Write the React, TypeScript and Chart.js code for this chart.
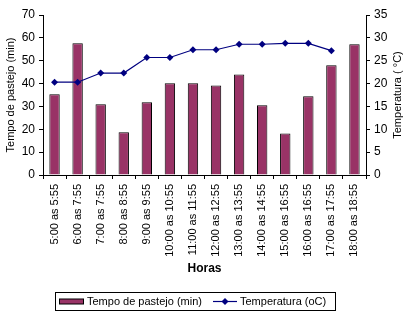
import { useEffect, useRef } from "react";
import { Chart, registerables } from "chart.js";

Chart.register(...registerables);

const categories = [
  "5:00 as 5:55",
  "6:00 as 7:55",
  "7:00 as 7:55",
  "8:00 as 8:55",
  "9:00 as 9:55",
  "10:00 as 10:55",
  "11:00 as 11:55",
  "12:00 as 12:55",
  "13:00 as 13:55",
  "14:00 as 14:55",
  "15:00 as 16:55",
  "16:00 as 16:55",
  "17:00 as 17:55",
  "18:00 as 18:55",
];
const grazingMinutes = [35.3, 57.6, 30.9, 18.7, 31.8, 40.1, 40.1, 39.2, 44.0, 30.5, 18.2, 34.4, 48.0, 57.2];
const temperatureC: (number | null)[] = [20.3, 20.3, 22.3, 22.3, 25.7, 25.7, 27.4, 27.4, 28.6, 28.6, 28.8, 28.8, 27.2, null];

const barLabel = "Tempo de pastejo (min)";
const lineLabel = "Temperatura (oC)";
const leftTitle = "Tempo de pastejo (min)";
const rightTitle = "Temperatura ( °C)";
const xTitle = "Horas";

const BAR_COLOR = "#993366";
const LINE_COLOR = "#000080";
const FONT = "'Liberation Sans', Arial, sans-serif";

const extrasPlugin = {
  id: "extras",
  afterDraw(chart: any) {
    const ctx = chart.ctx as CanvasRenderingContext2D;
    const area = chart.chartArea;
    ctx.save();
    // right axis title (reads bottom to top)
    ctx.fillStyle = "#000";
    ctx.font = `11px ${FONT}`;
    ctx.textAlign = "center";
    ctx.textBaseline = "middle";
    ctx.translate(398, (area.top + area.bottom) / 2);
    ctx.rotate(-Math.PI / 2);
    ctx.fillText(rightTitle, 0, 0);
    ctx.restore();

    // legend
    ctx.save();
    ctx.strokeStyle = "#000";
    ctx.lineWidth = 1;
    ctx.strokeRect(55.5, 292.5, 280, 18);
    const cy = 301.5;
    ctx.fillStyle = BAR_COLOR;
    ctx.fillRect(59.5, cy - 2.5, 24, 5);
    ctx.strokeRect(59.5, cy - 2.5, 24, 5);
    ctx.fillStyle = "#000";
    ctx.font = `11px ${FONT}`;
    ctx.textAlign = "left";
    ctx.textBaseline = "middle";
    ctx.fillText(barLabel, 87, cy);
    ctx.strokeStyle = LINE_COLOR;
    ctx.lineWidth = 1.2;
    ctx.beginPath();
    ctx.moveTo(213, cy);
    ctx.lineTo(237, cy);
    ctx.stroke();
    ctx.fillStyle = LINE_COLOR;
    ctx.beginPath();
    ctx.moveTo(225, cy - 3.5);
    ctx.lineTo(228.5, cy);
    ctx.lineTo(225, cy + 3.5);
    ctx.lineTo(221.5, cy);
    ctx.closePath();
    ctx.fill();
    ctx.fillStyle = "#000";
    ctx.fillText(lineLabel, 240, cy);
    ctx.restore();
  },
};

export default function App() {
  const ref = useRef<HTMLCanvasElement>(null);
  useEffect(() => {
    if (!ref.current) return;
    const chart = new Chart(ref.current, {
      type: "bar",
      data: {
        labels: categories,
        datasets: [
          {
            type: "bar",
            label: barLabel,
            data: grazingMinutes,
            backgroundColor: BAR_COLOR,
            borderColor: "#000",
            borderWidth: 1,
            barPercentage: 0.45,
            categoryPercentage: 1,
            yAxisID: "y",
            order: 1,
          },
          {
            type: "line",
            label: lineLabel,
            data: temperatureC,
            borderColor: LINE_COLOR,
            backgroundColor: LINE_COLOR,
            borderWidth: 1.2,
            pointStyle: "rectRot",
            pointRadius: 3.5,
            pointBorderWidth: 0,
            tension: 0,
            spanGaps: false,
            yAxisID: "y1",
            order: 0,
          } as any,
        ],
      },
      options: {
        responsive: false,
        animation: false,
        devicePixelRatio: 1,
        layout: { padding: { left: 0, right: 0, top: 15, bottom: 42 } },
        plugins: { legend: { display: false }, tooltip: { enabled: false } },
        scales: {
          x: {
            grid: { display: true, drawOnChartArea: false, tickLength: 4, color: "#000", offset: true },
            border: { color: "#000", width: 1 },
            ticks: { color: "#000", font: { family: FONT, size: 11 }, minRotation: 90, maxRotation: 90, padding: 5, autoSkip: false },
            title: { display: true, text: xTitle, color: "#000", font: { family: FONT, size: 12, weight: "bold" }, padding: { top: 0, bottom: 4 } },
            afterFit: (s: any) => { s.height = 105; },
          },
          y: {
            position: "left",
            min: 0,
            max: 70,
            ticks: { stepSize: 10, color: "#000", font: { family: FONT, size: 12 }, padding: 4 },
            grid: { display: true, drawOnChartArea: false, tickLength: 4, color: "#000" },
            border: { color: "#000", width: 1 },
            title: { display: true, text: leftTitle, color: "#000", font: { family: FONT, size: 11 }, padding: { top: 4, bottom: 0 } },
            afterFit: (s: any) => { s.width = 43; },
          },
          y1: {
            position: "right",
            min: 0,
            max: 35,
            ticks: { stepSize: 5, color: "#000", font: { family: FONT, size: 12 }, padding: 4 },
            grid: { display: true, drawOnChartArea: false, tickLength: 4, color: "#000" },
            border: { color: "#000", width: 1 },
            afterFit: (s: any) => { s.width = 44; },
          },
        },
      },
      plugins: [extrasPlugin],
    });
    return () => chart.destroy();
  }, []);
  return (
    <div style={{ position: "fixed", left: 0, top: 0, width: 410, height: 322, background: "#fff" }}>
      <canvas ref={ref} width={410} height={322} style={{ width: 410, height: 322 }} />
    </div>
  );
}
